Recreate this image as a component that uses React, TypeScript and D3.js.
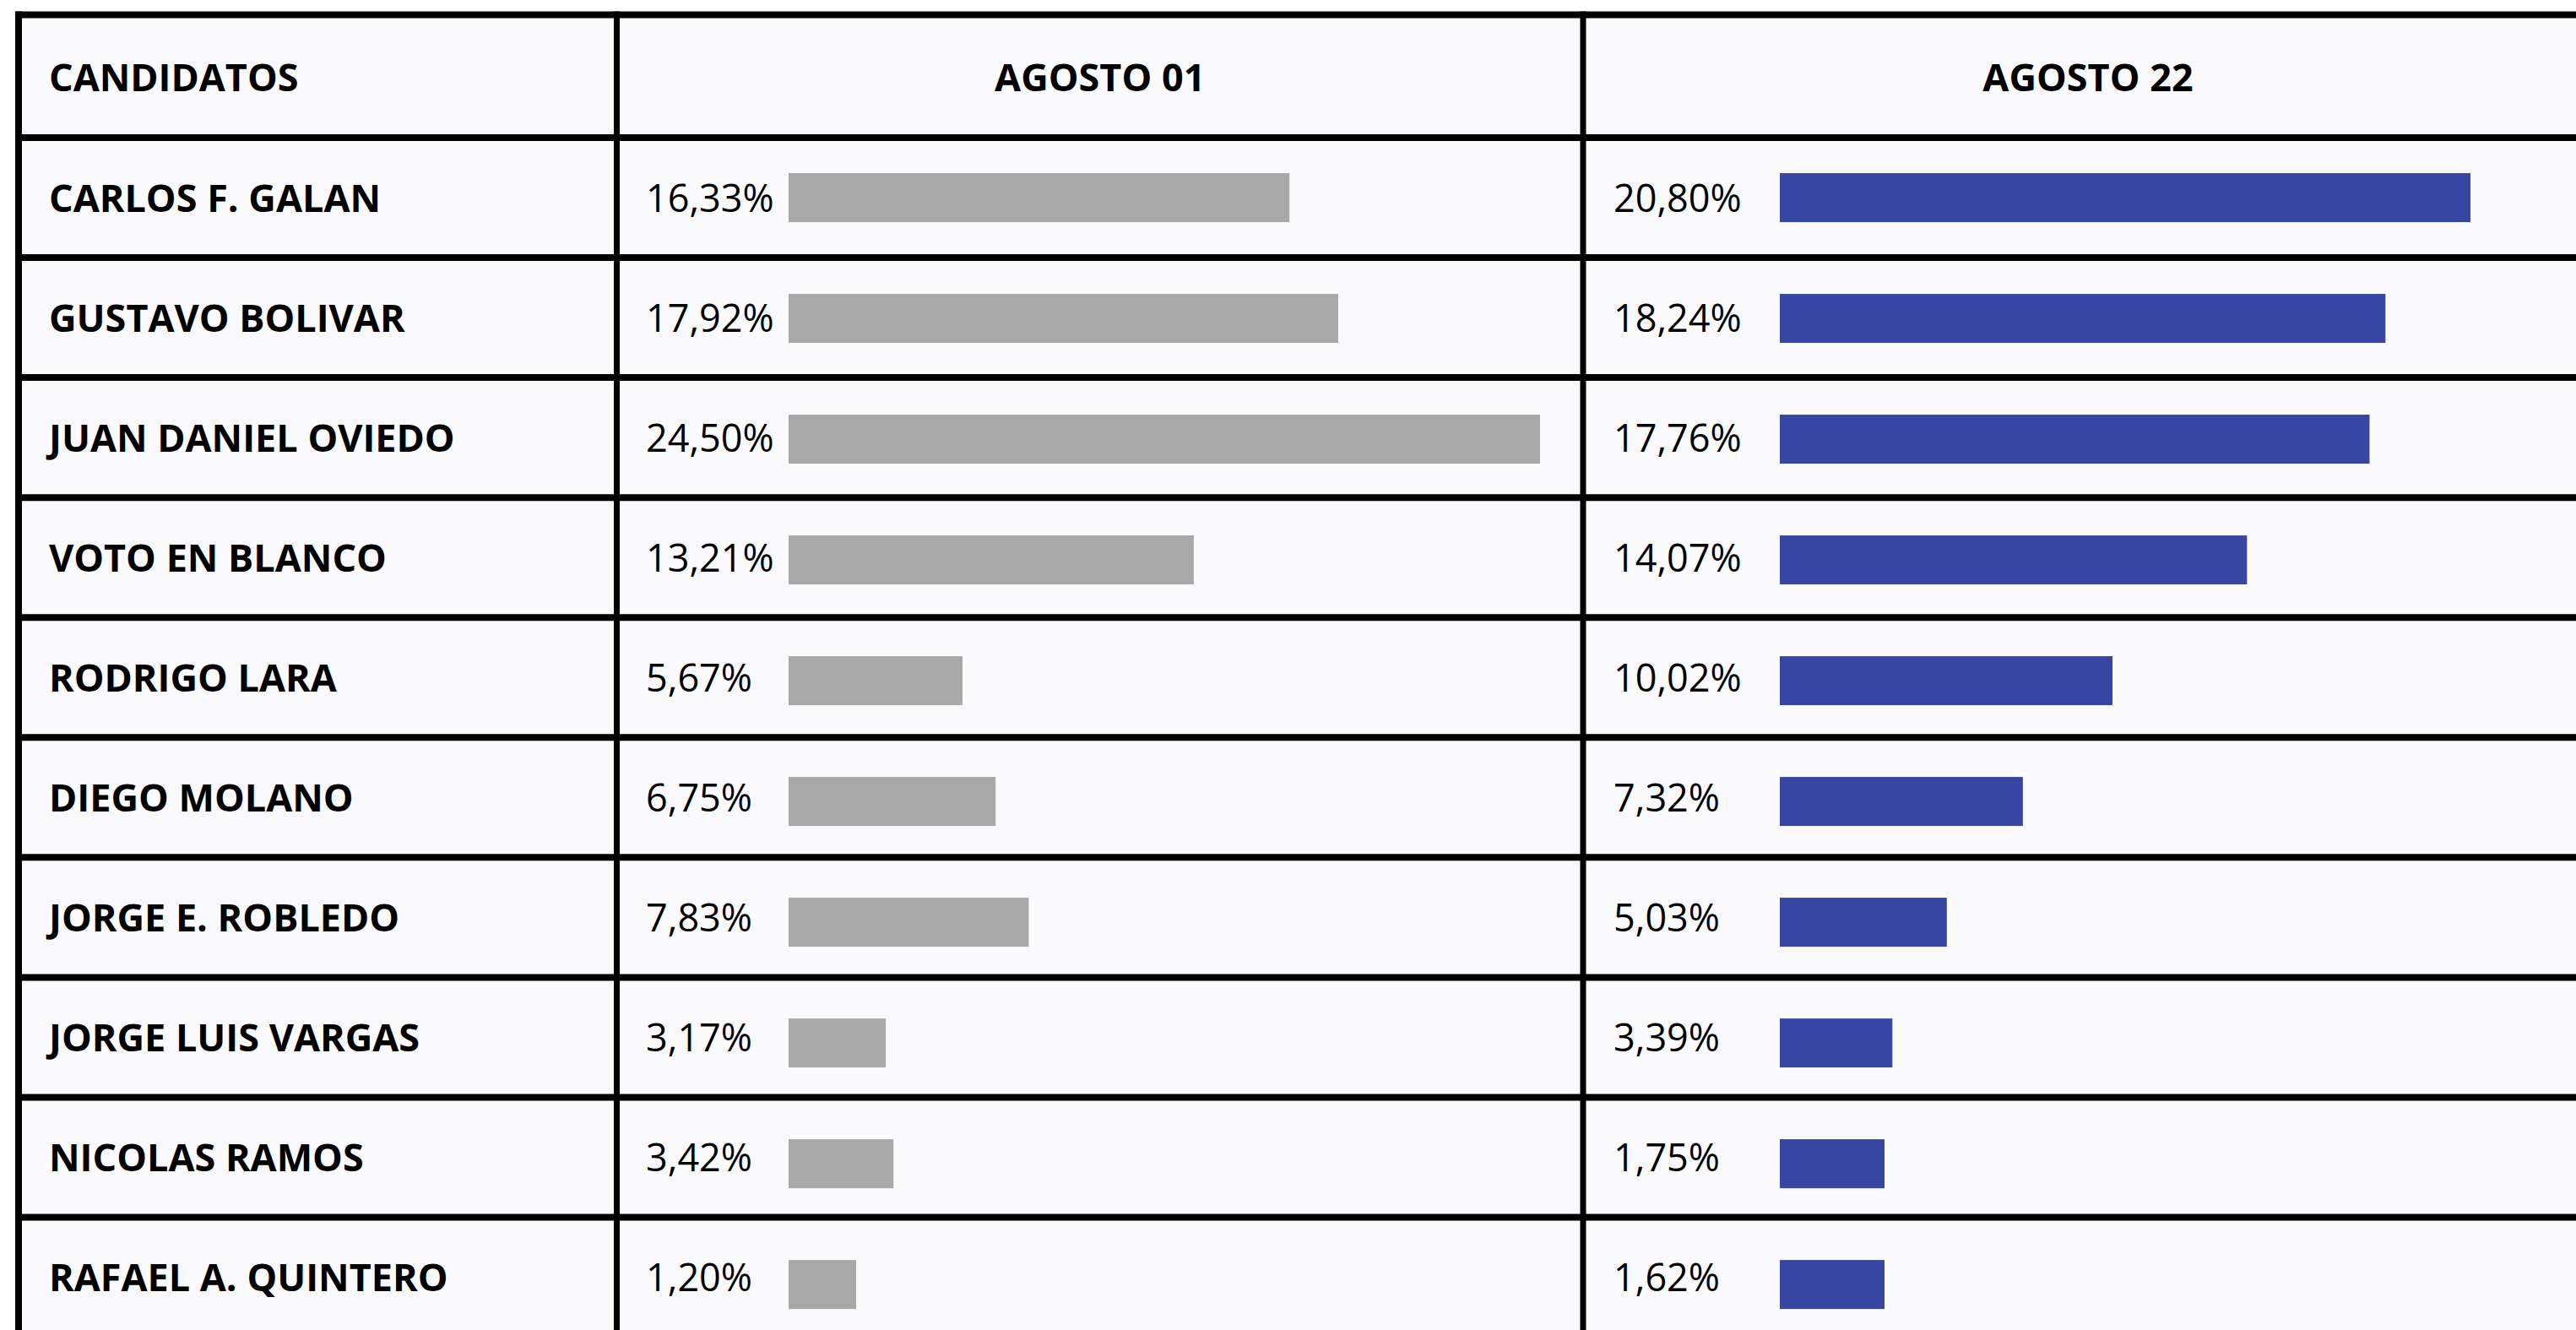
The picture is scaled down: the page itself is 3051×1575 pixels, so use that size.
import React from "react";
import * as d3 from "d3";

const candidates = [
  "CARLOS F. GALAN",
  "GUSTAVO BOLIVAR",
  "JUAN DANIEL OVIEDO",
  "VOTO EN BLANCO",
  "RODRIGO LARA",
  "DIEGO MOLANO",
  "JORGE E. ROBLEDO",
  "JORGE LUIS VARGAS",
  "NICOLAS RAMOS",
  "RAFAEL A. QUINTERO",
];
const agosto01 = [16.33, 17.92, 24.5, 13.21, 5.67, 6.75, 7.83, 3.17, 3.42, 1.2];
const agosto22 = [20.8, 18.24, 17.76, 14.07, 10.02, 7.32, 5.03, 3.39, 1.75, 1.62];
const headers = ["CANDIDATOS", "AGOSTO 01", "AGOSTO 22"];

const W = 3051;
const H = 1575;
const FONT = "'Open Sans', 'Noto Sans', sans-serif";
const LINE = 8;
const BORDER_TOP = 17.5;
const HEADER_BOTTOM = 163;
const ROW_STEP = 142.06;
const COL_X = [22, 730.5, 1875, 3071];
const FS = 45;
const CAP = 16.5;

const fmt = (v: number) => d3.format(".2f")(v).replace(".", ",") + "%";

export default function App() {
  const rows = d3
    .scaleBand<string>()
    .domain(candidates)
    .range([HEADER_BOTTOM, HEADER_BOTTOM + ROW_STEP * candidates.length])
    .paddingInner(0)
    .paddingOuter(0);

  const x01 = d3.scaleLinear().domain([0, 24.5]).range([0, 890]);
  const x22 = d3.scaleLinear().domain([0, 20.8]).range([0, 818]);

  const series = [
    { values: agosto01, scale: x01, textX: 765, barX: 934, minW: 80, color: "#a8a8a8" },
    { values: agosto22, scale: x22, textX: 1911, barX: 2108, minW: 124, color: "#3846a3" },
  ];

  const barH = 58;
  const rowLines = d3.range(candidates.length + 1).map((k) => HEADER_BOTTOM + ROW_STEP * k);

  return (
    <svg
      width={W}
      height={H}
      style={{ position: "absolute", left: 0, top: 0, display: "block", background: "#ffffff" }}
      fontFamily={FONT}
    >
      <rect x={COL_X[0]} y={BORDER_TOP} width={W} height={H} fill="#fafafc" />

      {/* bars */}
      {series.map((s, si) =>
        candidates.map((c, i) => {
          const cy = (rows(c) as number) + rows.step() / 2 + i * 0.95;
          const w = Math.max(s.minW, s.scale(s.values[i]));
          return (
            <rect
              key={`b${si}-${i}`}
              x={s.barX}
              y={cy - barH / 2}
              width={w}
              height={barH}
              fill={s.color}
            />
          );
        })
      )}

      {/* value labels */}
      {series.map((s, si) =>
        candidates.map((c, i) => {
          const cy = (rows(c) as number) + rows.step() / 2;
          return (
            <text key={`t${si}-${i}`} x={s.textX} y={cy + CAP} fontSize={FS} fontWeight={400} fill="#000">
              {fmt(s.values[i])}
            </text>
          );
        })
      )}

      {/* candidate names */}
      {candidates.map((c) => {
        const cy = (rows(c) as number) + rows.step() / 2;
        return (
          <text key={c} x={58} y={cy + CAP} fontSize={FS} fontWeight={700} fill="#000">
            {c}
          </text>
        );
      })}

      {/* headers */}
      <text x={58} y={108} fontSize={FS} fontWeight={700} fill="#000">
        {headers[0]}
      </text>
      <text x={(COL_X[1] + COL_X[2]) / 2} y={108} fontSize={FS} fontWeight={700} fill="#000" textAnchor="middle">
        {headers[1]}
      </text>
      <text x={(COL_X[2] + COL_X[3]) / 2} y={108} fontSize={FS} fontWeight={700} fill="#000" textAnchor="middle">
        {headers[2]}
      </text>

      {/* grid lines */}
      <line x1={COL_X[0] - LINE / 2} x2={W + 20} y1={BORDER_TOP} y2={BORDER_TOP} stroke="#000" strokeWidth={LINE} />
      {rowLines.map((y, k) => (
        <line key={`h${k}`} x1={COL_X[0] - LINE / 2} x2={W + 20} y1={y} y2={y} stroke="#000" strokeWidth={LINE} />
      ))}
      {COL_X.slice(0, 3).map((x, k) => (
        <line key={`v${k}`} x1={x} x2={x} y1={BORDER_TOP - LINE / 2} y2={H + 20} stroke="#000" strokeWidth={k === 0 ? LINE : 7} />
      ))}
    </svg>
  );
}
